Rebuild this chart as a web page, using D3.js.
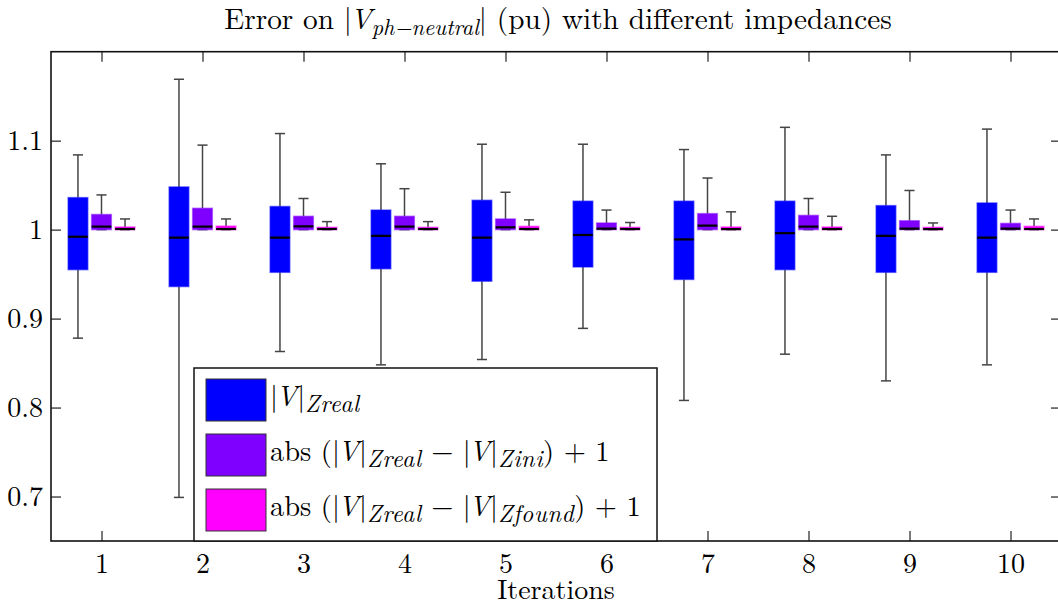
<!DOCTYPE html>
<html><head><meta charset="utf-8">
<script src="https://cdn.jsdelivr.net/npm/d3@7"></script>
<style>
body{margin:0;background:#fff;}
</style></head><body>
<svg id="chart" width="1058" height="607"></svg>
<script>
// ---------------- data ----------------
const iterations = [1,2,3,4,5,6,7,8,9,10];
const yTickValues = [0.7,0.8,0.9,1,1.1];
const yTickLabels = ["0.7","0.8","0.9","1","1.1"];

// |V|_Zreal
const realHigh = [1.084,1.169,1.108,1.074,1.096,1.096,1.090,1.115,1.084,1.113];
const realQ3   = [1.036,1.048,1.026,1.022,1.033,1.032,1.032,1.032,1.027,1.030];
const realMed  = [0.992,0.991,0.991,0.993,0.991,0.994,0.989,0.996,0.993,0.991];
const realQ1   = [0.955,0.936,0.952,0.956,0.942,0.958,0.944,0.955,0.952,0.952];
const realLow  = [0.878,0.699,0.863,0.848,0.854,0.889,0.808,0.860,0.830,0.848];

// abs(|V|_Zreal - |V|_Zini) + 1
const iniHigh = [1.039,1.095,1.035,1.046,1.042,1.022,1.058,1.035,1.044,1.022];
const iniQ3   = [1.017,1.024,1.015,1.015,1.012,1.0075,1.018,1.016,1.010,1.007];
const iniMed  = [1.0034,1.0034,1.0037,1.0034,1.0026,1.0011,1.0045,1.0034,1.0011,1.0011];
const iniQ1   = [1,1,1,1,1,1,1,1,1,1];
const iniLow  = [1,1,1,1,1,1,1,1,1,1];

// abs(|V|_Zreal - |V|_Zfound) + 1
const foundHigh = [1.012,1.012,1.009,1.009,1.011,1.008,1.020,1.015,1.0075,1.012];
const foundQ3   = [1.003,1.004,1.0026,1.0026,1.0037,1.0026,1.003,1.003,1.0026,1.0037];
const foundMed  = [1.0007,1.0007,1.0007,1.0007,1.0007,1.0007,1.0006,1.0007,1.0006,1.0007];
const foundQ1   = [1,1,1,1,1,1,1,1,1,1];
const foundLow  = [1,1,1,1,1,1,1,1,1,1];

const seriesColors = ["#0000ff","#7f00ff","#ff00ff"];

// ---------------- layout ----------------
const svg = d3.select("#chart");
const FONT = "'Latin Modern Roman', 'CMU Serif', 'Liberation Serif', serif";
const L = 51, R = 1061, T = 51.7, B = 541;
const x = d3.scaleLinear().domain([0.5,10.5]).range([L,R]);
const y = d3.scaleLinear().domain([0.65,1.2]).range([B,T]);
const FS = 28, FS_T = 29.3, FS_L = 28.5;

const series = [
  {hi:realHigh, q3:realQ3, med:realMed, q1:realQ1, lo:realLow, color:seriesColors[0]},
  {hi:iniHigh, q3:iniQ3, med:iniMed, q1:iniQ1, lo:iniLow, color:seriesColors[1]},
  {hi:foundHigh, q3:foundQ3, med:foundMed, q1:foundQ1, lo:foundLow, color:seriesColors[2]}
];
const offsets = [-0.233, 0, 0.233];
const boxW = 0.195, capW = 0.10;

function fontify(sel, size){ return sel.style("font-family",FONT).attr("font-size",size).attr("fill","#000"); }

// axes (ticks inward on all four sides)
const ax = svg.append("g");
const axBottom = ax.append("g").attr("transform",`translate(0,${B})`)
  .call(d3.axisBottom(x).tickValues(iterations).tickSizeInner(-10).tickSizeOuter(0).tickFormat(d=>String(d)));
const axTop = ax.append("g").attr("transform",`translate(0,${T})`)
  .call(d3.axisTop(x).tickValues(iterations).tickSizeInner(-10).tickSizeOuter(0).tickFormat(""));
const axLeft = ax.append("g").attr("transform",`translate(${L},0)`)
  .call(d3.axisLeft(y).tickValues(yTickValues).tickSizeInner(-10).tickSizeOuter(0).tickPadding(8)
    .tickFormat((d,i)=>yTickLabels[i]));
const axRight = ax.append("g").attr("transform",`translate(${R},0)`)
  .call(d3.axisRight(y).tickValues(yTickValues).tickSizeInner(-10).tickSizeOuter(0).tickFormat(""));
ax.selectAll(".domain").remove();
ax.selectAll(".tick line").attr("stroke","#222").attr("stroke-width",1.2);
fontify(ax.selectAll("text"), FS);
axBottom.selectAll("text").attr("y",32).attr("dy","0");
axLeft.selectAll("text").attr("dy","0.33em");

// boxes
const g = svg.append("g");
series.forEach((s,k)=>{
  iterations.forEach((it,i)=>{
    const cx = x(it+offsets[k]);
    const hw = x(boxW/2)-x(0), cw = x(capW/2)-x(0);
    const wcol = "#444";
    g.append("line").attr("x1",cx).attr("x2",cx).attr("y1",y(s.hi[i])).attr("y2",y(s.q3[i]))
      .attr("stroke",wcol).attr("stroke-width",1.5);
    g.append("line").attr("x1",cx).attr("x2",cx).attr("y1",y(s.q1[i])).attr("y2",y(s.lo[i]))
      .attr("stroke",wcol).attr("stroke-width",1.5);
    [s.hi[i], s.lo[i]].forEach(v=>{
      g.append("line").attr("x1",cx-cw).attr("x2",cx+cw).attr("y1",y(v)).attr("y2",y(v))
        .attr("stroke",wcol).attr("stroke-width",1.5);
    });
    g.append("rect").attr("x",cx-hw).attr("width",2*hw)
      .attr("y",y(s.q3[i])).attr("height",Math.max(1,y(s.q1[i])-y(s.q3[i])))
      .attr("fill",s.color).attr("stroke",s.color).attr("stroke-opacity",0.5).attr("stroke-width",1.5);
    g.append("line").attr("x1",cx-hw).attr("x2",cx+hw).attr("y1",y(s.med[i])).attr("y2",y(s.med[i]))
      .attr("stroke","#000").attr("stroke-width",2.2);
  });
});

// frame
svg.append("rect").attr("x",L).attr("y",T).attr("width",R-L).attr("height",B-T)
  .attr("fill","none").attr("stroke","#111").attr("stroke-width",1.6);

// rich text helper (math italic + subscripts)
function rich(sel, parts, fs, subScale, subSpacing){
  let shift = 0;
  parts.forEach(p=>{
    const t = sel.append("tspan").text(p.t);
    if(p.i) t.style("font-style","italic");
    const want = p.sub ? 0.2*fs : 0;
    if(want!==shift){ t.attr("dy", want-shift); shift = want; }
    if(p.sub) t.attr("font-size", subScale*fs).style("letter-spacing", subSpacing+"px");
    if(p.t==="V") t.attr("dx", -0.07*fs);
  });
}

// title
const title = fontify(svg.append("text").attr("x",558).attr("y",29).attr("text-anchor","middle"), FS_T);
rich(title,[{t:"Error on |"},{t:"V",i:1},{t:"ph−neutral",i:1,sub:1},{t:"| (pu) with different impedances"}], FS_T, 0.76, 0);

// x label
fontify(svg.append("text").attr("x",556).attr("y",599).attr("text-anchor","middle"), FS).text("Iterations");

// legend
const lg = svg.append("g");
lg.append("rect").attr("x",194).attr("y",368).attr("width",463).attr("height",B-368)
  .attr("fill","#fff").attr("stroke","#111").attr("stroke-width",1.5);
const legendLabels = [
  [{t:"|"},{t:"V",i:1},{t:"|"},{t:"Zreal",i:1,sub:1}],
  [{t:"abs (|"},{t:"V",i:1},{t:"|"},{t:"Zreal",i:1,sub:1},{t:" − |"},{t:"V",i:1},{t:"|"},{t:"Zini",i:1,sub:1},{t:") + 1"}],
  [{t:"abs (|"},{t:"V",i:1},{t:"|"},{t:"Zreal",i:1,sub:1},{t:" − |"},{t:"V",i:1},{t:"|"},{t:"Zfound",i:1,sub:1},{t:") + 1"}]
];
legendLabels.forEach((lab,k)=>{
  const yy = 379 + k*55;
  lg.append("rect").attr("x",206).attr("y",yy).attr("width",60).attr("height",42)
    .attr("fill",seriesColors[k]).attr("stroke","#333").attr("stroke-width",1);
  const t = fontify(lg.append("text").attr("x",270).attr("y",yy+27), FS_L);
  rich(t, lab, FS_L, 0.84, 0.6);
});
</script>
</body></html>
